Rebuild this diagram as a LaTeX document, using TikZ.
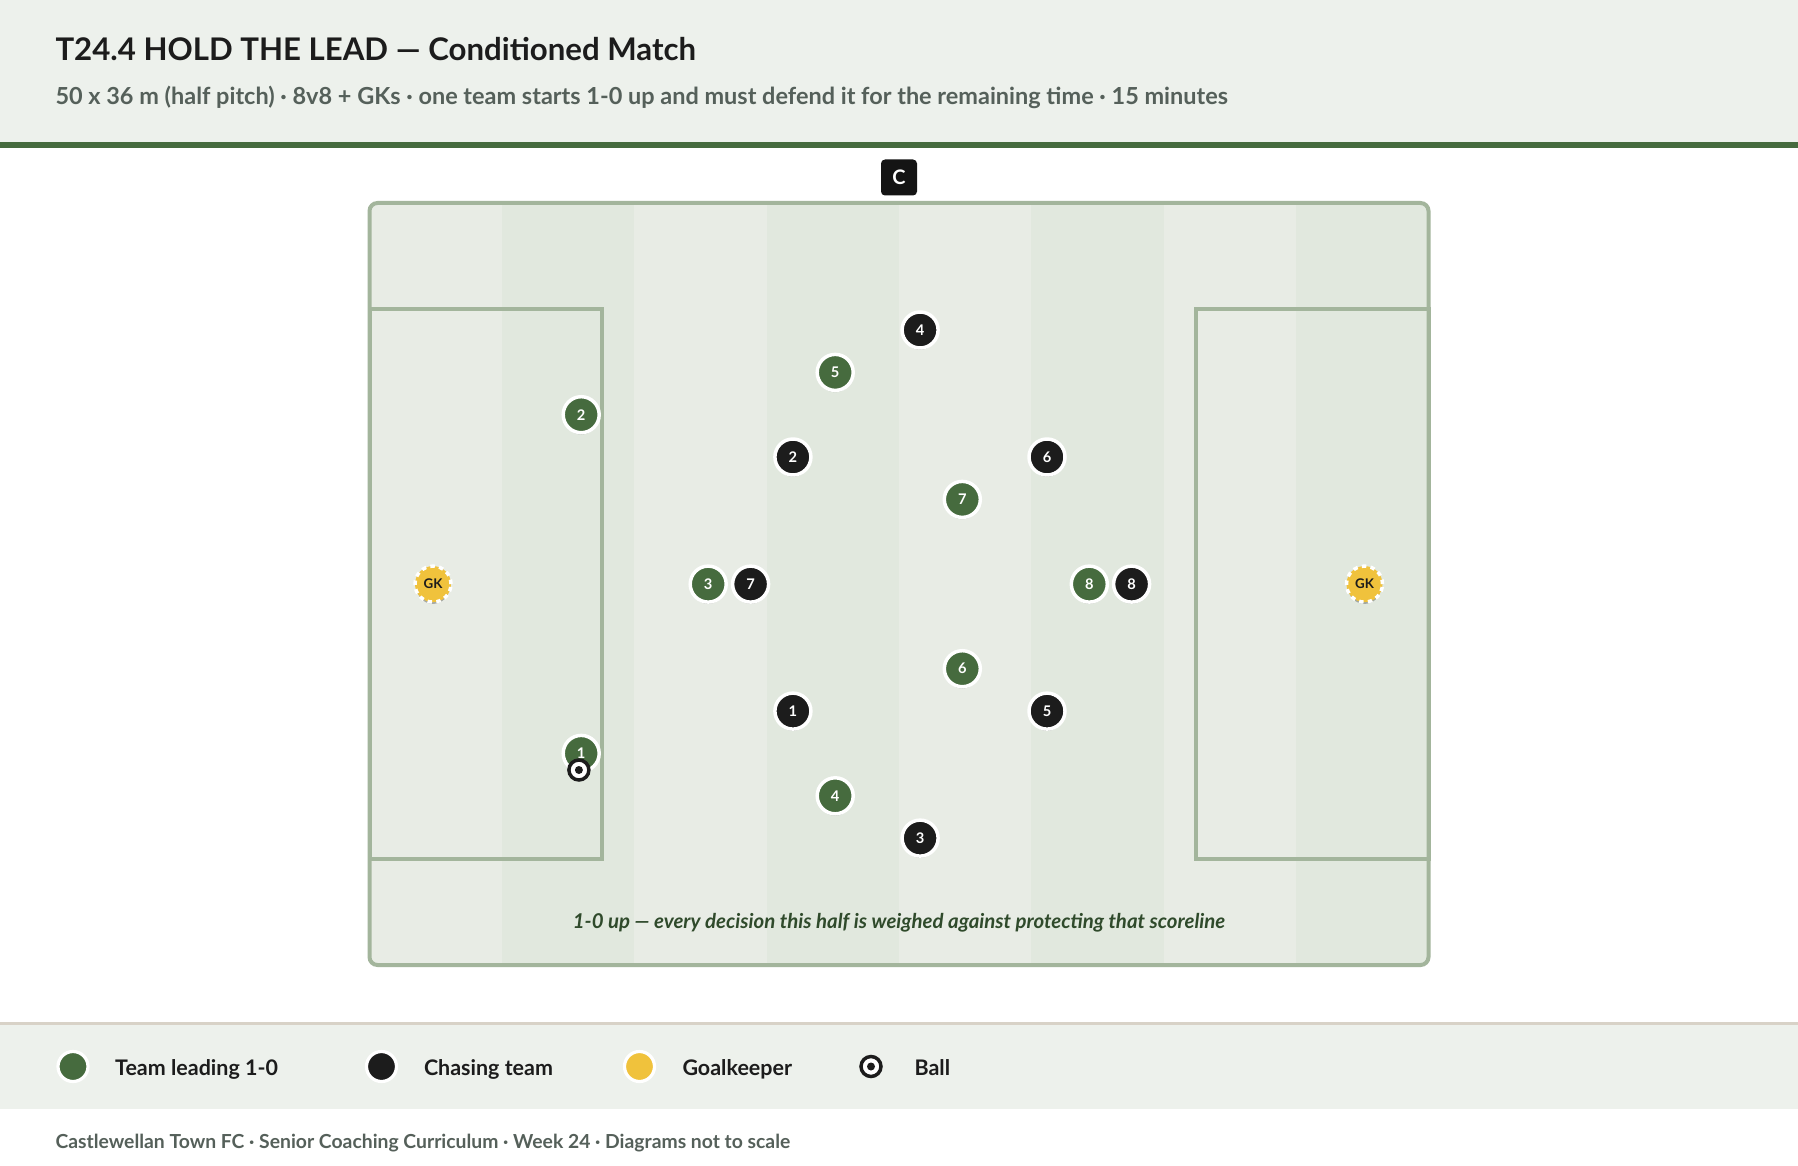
\documentclass[tikz,border=0pt]{standalone}
\usepackage{fontspec}
\setmainfont{Lato}
\usetikzlibrary{shadows}

\definecolor{headbg}{HTML}{EDF1EC}
\definecolor{leadgreen}{HTML}{466B3E}
\definecolor{chaseblack}{HTML}{1C1C1C}
\definecolor{keeperyellow}{HTML}{F0C23C}
\definecolor{stripelight}{HTML}{E8ECE5}
\definecolor{stripedark}{HTML}{E1E8DE}
\definecolor{pitchline}{HTML}{A3B59C}
\definecolor{captiongreen}{HTML}{2F4A2B}
\definecolor{subgray}{HTML}{55605A}
\definecolor{legendline}{HTML}{D8D2C7}

\tikzset{every picture/.style={line width=0.75pt}}
\tikzset{
  tokenshadow/.style={drop shadow={shadow xshift=0pt, shadow yshift=-3pt, shadow scale=0.9, opacity=0.28, fill=black}},
  leadp/.style={circle, fill=leadgreen, draw=white, line width=2.6pt, minimum size=27pt, inner sep=0pt, text=white, font=\bfseries\fontsize{11}{11}\selectfont, tokenshadow},
  chasep/.style={leadp, fill=chaseblack},
  keeper/.style={circle, fill=keeperyellow, draw=white, line width=2.6pt, dash pattern=on 3.4pt off 3.2pt, minimum size=27pt, inner sep=0pt, text=chaseblack, font=\bfseries\fontsize{10}{10}\selectfont, tokenshadow},
  ballmark/.style={circle, fill=white, draw=chaseblack, line width=2.6pt, minimum size=15pt, inner sep=0pt},
  legendkey/.style={circle, draw=white, line width=2.4pt, minimum size=22.5pt, inner sep=0pt},
  legendtext/.style={anchor=base west, inner sep=0pt, text=chaseblack, font=\bfseries\fontsize{16.1}{16.1}\selectfont},
}

\begin{document}
\begin{tikzpicture}[x=0.75pt,y=0.75pt,yscale=-1,xscale=1]
\useasboundingbox (0,0) rectangle (1798,1166);
\fill[white] (0,0) rectangle (1798,1166);

%Shape: Rectangle [header band]
\fill[headbg] (0,0) rectangle (1798,142);
\draw[leadgreen, line width=4.5pt] (0,145) -- (1798,145);

% Text Node
\node[anchor=base west, inner sep=0pt, text=chaseblack, font=\bfseries\fontsize{23.4}{23.4}\selectfont] (title) at (55,60.5) {T24.4 HOLD THE LEAD — Conditioned Match};
% Text Node
\node[anchor=base west, inner sep=0pt, text=subgray, font=\bfseries\fontsize{17.6}{17.6}\selectfont] (subtitle) at (55,105) {50 x 36 m (half pitch) · 8v8 + GKs · one team starts 1-0 up and must defend it for the remaining time · 15 minutes};

%Shape: Pitch stripes
\begin{scope}
\clip[rounded corners=6pt] (369.5,203) rectangle (1428.5,965);
\fill[stripelight] (369.5,203) rectangle (1428.5,965);
\fill[stripedark] (501.9,203) rectangle (634.3,965);
\fill[stripedark] (766.6,203) rectangle (899,965);
\fill[stripedark] (1031.4,203) rectangle (1163.8,965);
\fill[stripedark] (1296.1,203) rectangle (1428.5,965);
\end{scope}
%Shape: Pitch outline
\draw[pitchline, line width=3pt, rounded corners=6pt] (369.5,203) rectangle (1428.5,965);
%Shape: Penalty areas
\draw[pitchline, line width=3pt] (369.5,308.9) rectangle (602.4,859.3);
\draw[pitchline, line width=3pt] (1195.6,308.9) rectangle (1428.5,859.3);

%Shape: Coach
\node[rectangle, rounded corners=3pt, fill=black!92, minimum size=27pt, inner sep=0pt, text=white, font=\bfseries\fontsize{15}{15}\selectfont] (coach) at (899,177.5) {C};

% Text Node
\node[inner sep=0pt, text=captiongreen, font=\bfseries\itshape\fontsize{15.3}{15.3}\selectfont] (caption) at (899,922.5) {1-0 up — every decision this half is weighed against protecting that scoreline};

%Goalkeepers
\node[keeper] (gkleft) at (433,584.1) {GK};
\node[keeper] (gkright) at (1364.5,584.1) {GK};

%Team leading 1-0
\node[leadp] (lead1) at (581.2,753.4) {1};
\node[leadp] (lead2) at (581.2,414.7) {2};
\node[leadp] (lead3) at (708.2,584.1) {3};
\node[leadp] (lead4) at (835.2,795.8) {4};
\node[leadp] (lead5) at (835.2,372.4) {5};
\node[leadp] (lead6) at (962.3,668.7) {6};
\node[leadp] (lead7) at (962.3,499.4) {7};
\node[leadp] (lead8) at (1089.3,584.1) {8};

%Chasing team
\node[chasep] (chase1) at (792.9,711.1) {1};
\node[chasep] (chase2) at (792.9,457) {2};
\node[chasep] (chase3) at (920.1,838.1) {3};
\node[chasep] (chase4) at (920.1,330) {4};
\node[chasep] (chase5) at (1047,711.1) {5};
\node[chasep] (chase6) at (1047,457) {6};
\node[chasep] (chase7) at (750.6,584.1) {7};
\node[chasep] (chase8) at (1131.6,584.1) {8};

%Ball
\node[ballmark] (ball) at (578.9,770) {};
\fill[chaseblack] (ball.center) circle (4);

%Shape: Legend band
\fill[headbg] (0,1025) rectangle (1798,1109);
\draw[legendline, line width=2.25pt] (0,1023.5) -- (1798,1023.5);

%Legend
\node[legendkey, fill=leadgreen] (keylead) at (73,1066.5) {};
\node[legendtext] (keyleadtext) at (114.7,1075) {Team leading 1-0};
\node[legendkey, fill=chaseblack] (keychase) at (381.5,1066.5) {};
\node[legendtext] (keychasetext) at (423.5,1075) {Chasing team};
\node[legendkey, fill=keeperyellow] (keykeeper) at (639.5,1066.5) {};
\node[legendtext] (keykeepertext) at (682,1075) {Goalkeeper};
\node[ballmark] (keyball) at (871,1066.5) {};
\fill[chaseblack] (keyball.center) circle (4);
\node[legendtext] (keyballtext) at (914,1075) {Ball};

% Text Node
\node[anchor=base west, inner sep=0pt, text=subgray, font=\bfseries\fontsize{14.5}{14.5}\selectfont] (footer) at (55,1148) {Castlewellan Town FC · Senior Coaching Curriculum · Week 24 · Diagrams not to scale};

\end{tikzpicture}
\end{document}
